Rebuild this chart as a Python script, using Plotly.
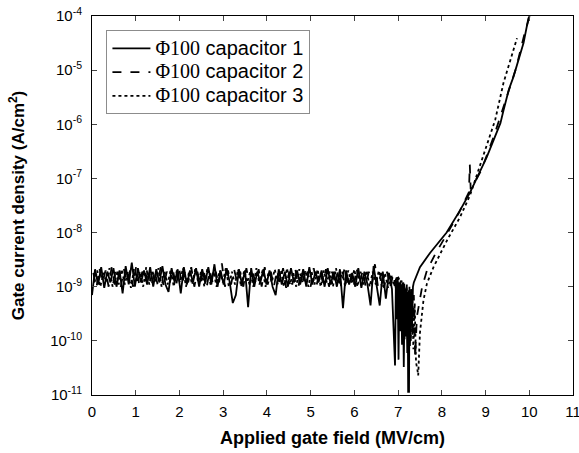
import plotly.graph_objects as go

# applied gate field (MV/cm) in the flat leakage region, one sweep per capacitor
cap1_field_flat = [
    0.00, 0.07, 0.14, 0.21, 0.28, 0.35, 0.42, 0.49, 0.56, 0.63,
    0.70, 0.77, 0.84, 0.91, 0.98, 1.05, 1.12, 1.19, 1.26, 1.33,
    1.40, 1.47, 1.54, 1.61, 1.68, 1.75, 1.82, 1.89, 1.96, 2.03,
    2.10, 2.17, 2.24, 2.31, 2.38, 2.45, 2.52, 2.59, 2.66, 2.73,
    2.80, 2.87, 2.94, 3.01, 3.08, 3.15, 3.22, 3.29, 3.36, 3.43,
    3.50, 3.57, 3.64, 3.71, 3.78, 3.85, 3.92, 3.99, 4.06, 4.13,
    4.20, 4.27, 4.34, 4.41, 4.48, 4.55, 4.62, 4.69, 4.76, 4.83,
    4.90, 4.97, 5.04, 5.11, 5.18, 5.25, 5.32, 5.39, 5.46, 5.53,
    5.60, 5.67, 5.74, 5.81, 5.88, 5.95, 6.02, 6.09, 6.16, 6.23,
    6.30, 6.37, 6.44, 6.51, 6.58, 6.65, 6.72, 6.79, 6.86, 6.93,
]
cap2_field_flat = [
    0.03, 0.10, 0.17, 0.24, 0.31, 0.38, 0.45, 0.52, 0.59, 0.66,
    0.73, 0.80, 0.87, 0.94, 1.01, 1.08, 1.15, 1.22, 1.29, 1.36,
    1.43, 1.50, 1.57, 1.64, 1.71, 1.78, 1.85, 1.92, 1.99, 2.06,
    2.13, 2.20, 2.27, 2.34, 2.41, 2.48, 2.55, 2.62, 2.69, 2.76,
    2.83, 2.90, 2.97, 3.04, 3.11, 3.18, 3.25, 3.32, 3.39, 3.46,
    3.53, 3.60, 3.67, 3.74, 3.81, 3.88, 3.95, 4.02, 4.09, 4.16,
    4.23, 4.30, 4.37, 4.44, 4.51, 4.58, 4.65, 4.72, 4.79, 4.86,
    4.93, 5.00, 5.07, 5.14, 5.21, 5.28, 5.35, 5.42, 5.49, 5.56,
    5.63, 5.70, 5.77, 5.84, 5.91, 5.98, 6.05, 6.12, 6.19, 6.26,
    6.33, 6.40, 6.47, 6.54, 6.61, 6.68, 6.75, 6.82, 6.89, 6.96,
]
cap3_field_flat = [
    0.05, 0.12, 0.19, 0.26, 0.33, 0.40, 0.47, 0.54, 0.61, 0.68,
    0.75, 0.82, 0.89, 0.96, 1.03, 1.10, 1.17, 1.24, 1.31, 1.38,
    1.45, 1.52, 1.59, 1.66, 1.73, 1.80, 1.87, 1.94, 2.01, 2.08,
    2.15, 2.22, 2.29, 2.36, 2.43, 2.50, 2.57, 2.64, 2.71, 2.78,
    2.85, 2.92, 2.99, 3.06, 3.13, 3.20, 3.27, 3.34, 3.41, 3.48,
    3.55, 3.62, 3.69, 3.76, 3.83, 3.90, 3.97, 4.04, 4.11, 4.18,
    4.25, 4.32, 4.39, 4.46, 4.53, 4.60, 4.67, 4.74, 4.81, 4.88,
    4.95, 5.02, 5.09, 5.16, 5.23, 5.30, 5.37, 5.44, 5.51, 5.58,
    5.65, 5.72, 5.79, 5.86, 5.93, 6.00, 6.07, 6.14, 6.21, 6.28,
    6.35, 6.42, 6.49, 6.56, 6.63, 6.70, 6.77, 6.84, 6.91, 6.98,
]

# gate current density (A/cm2) in the flat region
cap1_flat = [
    0.70e-9, 2.1e-9, 1.1e-9, 2.3e-9, 0.95e-9, 1.9e-9, 1.2e-9, 2.2e-9, 1.0e-9, 2.0e-9,
    0.75e-9, 2.4e-9, 1.1e-9, 2.8e-9, 1.0e-9, 2.2e-9, 1.2e-9, 2.0e-9, 1.1e-9, 2.3e-9,
    1.0e-9, 2.1e-9, 1.2e-9, 2.4e-9, 1.1e-9, 0.80e-9, 2.2e-9, 1.2e-9, 2.1e-9, 0.75e-9,
    2.3e-9, 1.1e-9, 2.0e-9, 1.2e-9, 2.2e-9, 1.0e-9, 2.1e-9, 1.2e-9, 2.3e-9, 1.1e-9,
    2.6e-9, 1.0e-9, 2.0e-9, 1.1e-9, 2.2e-9, 1.2e-9, 0.50e-9, 0.70e-9, 2.1e-9, 1.1e-9,
    2.0e-9, 0.42e-9, 2.2e-9, 1.0e-9, 1.9e-9, 1.2e-9, 2.1e-9, 1.1e-9, 2.0e-9, 1.0e-9,
    0.70e-9, 2.1e-9, 1.1e-9, 1.9e-9, 1.0e-9, 2.2e-9, 1.2e-9, 2.0e-9, 1.1e-9, 2.1e-9,
    1.0e-9, 2.3e-9, 1.1e-9, 1.9e-9, 1.2e-9, 2.0e-9, 1.0e-9, 2.2e-9, 1.1e-9, 1.9e-9,
    1.0e-9, 2.1e-9, 0.40e-9, 2.0e-9, 1.1e-9, 1.8e-9, 1.0e-9, 2.2e-9, 0.95e-9, 1.9e-9,
    1.1e-9, 0.45e-9, 2.4e-9, 0.95e-9, 0.45e-9, 1.9e-9, 0.60e-9, 1.8e-9, 0.90e-9, 3.5e-11,
]
cap2_flat = [
    1.8e-9, 0.95e-9, 2.2e-9, 1.2e-9, 2.0e-9, 1.0e-9, 2.3e-9, 1.1e-9, 1.9e-9, 1.0e-9,
    2.1e-9, 1.2e-9, 2.0e-9, 1.0e-9, 2.4e-9, 1.1e-9, 1.9e-9, 1.2e-9, 2.2e-9, 1.0e-9,
    2.0e-9, 1.1e-9, 2.3e-9, 1.0e-9, 1.9e-9, 1.2e-9, 2.1e-9, 1.0e-9, 2.2e-9, 1.1e-9,
    2.0e-9, 1.2e-9, 2.3e-9, 1.0e-9, 1.9e-9, 1.1e-9, 2.2e-9, 0.95e-9, 2.0e-9, 1.2e-9,
    1.9e-9, 1.1e-9, 2.7e-9, 1.0e-9, 2.0e-9, 1.1e-9, 2.1e-9, 1.2e-9, 1.9e-9, 1.0e-9,
    2.2e-9, 1.1e-9, 1.9e-9, 1.2e-9, 2.1e-9, 1.0e-9, 2.3e-9, 1.1e-9, 1.9e-9, 1.0e-9,
    2.0e-9, 1.2e-9, 2.2e-9, 0.95e-9, 1.9e-9, 1.1e-9, 2.1e-9, 1.0e-9, 2.0e-9, 1.2e-9,
    1.9e-9, 1.0e-9, 2.2e-9, 1.1e-9, 2.0e-9, 1.2e-9, 2.1e-9, 1.0e-9, 1.9e-9, 1.1e-9,
    2.0e-9, 1.0e-9, 2.1e-9, 1.2e-9, 1.9e-9, 0.95e-9, 2.2e-9, 1.1e-9, 2.0e-9, 1.0e-9,
    1.9e-9, 1.1e-9, 2.6e-9, 1.0e-9, 1.8e-9, 0.95e-9, 1.9e-9, 1.0e-9, 1.7e-9, 0.85e-9,
]
cap3_flat = [
    1.2e-9, 2.0e-9, 1.0e-9, 1.8e-9, 1.2e-9, 2.2e-9, 1.0e-9, 1.9e-9, 1.1e-9, 2.1e-9,
    1.1e-9, 1.9e-9, 0.95e-9, 2.1e-9, 1.2e-9, 1.9e-9, 1.0e-9, 2.3e-9, 1.1e-9, 2.0e-9,
    1.2e-9, 2.2e-9, 1.0e-9, 1.9e-9, 1.1e-9, 2.1e-9, 1.0e-9, 2.0e-9, 1.2e-9, 2.2e-9,
    1.0e-9, 1.9e-9, 1.1e-9, 2.1e-9, 1.2e-9, 2.0e-9, 1.0e-9, 2.2e-9, 1.1e-9, 1.9e-9,
    1.0e-9, 2.0e-9, 1.2e-9, 2.2e-9, 1.0e-9, 1.9e-9, 1.1e-9, 2.1e-9, 1.0e-9, 2.0e-9,
    1.2e-9, 1.9e-9, 1.0e-9, 2.2e-9, 1.1e-9, 2.0e-9, 1.0e-9, 1.9e-9, 1.2e-9, 2.1e-9,
    1.1e-9, 2.0e-9, 1.0e-9, 2.2e-9, 1.1e-9, 1.9e-9, 1.0e-9, 2.1e-9, 1.2e-9, 2.0e-9,
    1.0e-9, 1.9e-9, 1.1e-9, 2.1e-9, 1.0e-9, 2.0e-9, 1.2e-9, 1.9e-9, 1.0e-9, 2.2e-9,
    1.1e-9, 1.9e-9, 1.0e-9, 2.0e-9, 1.2e-9, 2.1e-9, 1.0e-9, 1.9e-9, 1.1e-9, 2.0e-9,
    1.0e-9, 1.9e-9, 1.1e-9, 2.0e-9, 1.0e-9, 1.8e-9, 0.95e-9, 1.7e-9, 1.0e-9, 1.6e-9,
]

# breakdown dip and tunnelling rise, per capacitor
cap1_field = [6.95, 6.97, 6.99, 7.01, 7.03, 7.05, 7.07, 7.09, 7.11, 7.13, 7.15, 7.17, 7.19, 7.21,
              7.22, 7.23, 7.24, 7.25, 7.26, 7.28, 7.30, 7.32, 7.34, 7.36,
              7.50, 7.73, 7.96, 8.11, 8.42, 8.65, 9.03, 9.34, 9.41, 9.53, 9.64, 9.73, 9.87, 9.98, 10.01]
cap1_tail = [1.4e-9, 2.5e-10, 1.3e-9, 4.5e-11, 1.2e-9, 1.5e-10, 1.1e-9, 8.5e-11, 1.2e-9, 3.3e-11, 1.0e-9, 1.2e-10, 9e-10, 6e-11,
             8e-10, 1.1e-11, 7e-10, 1.1e-11, 8e-10, 1.0e-10, 9e-10, 2e-10, 1.0e-9, 1.2e-9,
             2.3e-9, 4.2e-9, 7.2e-9, 1.0e-8, 2.6e-8, 5.6e-8, 2.5e-7, 1.05e-6, 1.8e-6, 4.3e-6, 7.6e-6, 1.3e-5, 3.2e-5, 9.1e-5, 1.0e-4]

cap2_field = [7.00, 7.03, 7.06, 7.09, 7.12, 7.15, 7.18, 7.21, 7.24, 7.27, 7.30, 7.33, 7.36, 7.39, 7.43,
              7.55, 7.66, 7.85, 8.10, 8.40, 8.62, 8.64, 8.66, 8.90, 9.20, 9.50, 9.70, 9.90, 10.01]
cap2_tail = [1.5e-9, 2e-10, 1.3e-9, 1.3e-10, 1.2e-9, 1.0e-10, 1.1e-9, 1.5e-10, 1.0e-9, 8e-11, 9e-10, 1.2e-10, 7e-10, 5e-11, 2.8e-10,
             1.0e-9, 2.0e-9, 4.0e-9, 8.9e-9, 2.4e-8, 5.6e-8, 1.8e-7, 6.3e-8, 1.4e-7, 6.3e-7, 3.5e-6, 1.1e-5, 5e-5, 1.0e-4]

cap3_field = [7.02, 7.05, 7.08, 7.11, 7.14, 7.17, 7.20, 7.23, 7.26, 7.29, 7.32, 7.35, 7.38, 7.41, 7.44, 7.46,
              7.50, 7.58, 7.66, 7.81, 8.12, 8.42, 8.65, 9.00, 9.22, 9.41, 9.60, 9.72]
cap3_tail = [1.4e-9, 3e-10, 1.3e-9, 1.5e-10, 1.2e-9, 2e-10, 1.1e-9, 1.2e-10, 1.0e-9, 1.0e-10, 8e-10, 7e-11, 5e-10, 4e-11, 3e-11, 2.3e-11,
             1.4e-10, 5.6e-10, 1.15e-9, 2.3e-9, 7.2e-9, 1.95e-8, 5.0e-8, 3.5e-7, 1.2e-6, 5.8e-6, 2.0e-5, 3.9e-5]

names = ["capacitor 1", "capacitor 2", "capacitor 3"]
dashes = ["solid", "dash", "dot"]

y_ticks = [1e-11, 1e-10, 1e-9, 1e-8, 1e-7, 1e-6, 1e-5, 1e-4]
y_labels = ["10<sup>-11</sup>", "10<sup>-10</sup>", "10<sup>-9</sup>", "10<sup>-8</sup>",
            "10<sup>-7</sup>", "10<sup>-6</sup>", "10<sup>-5</sup>", "10<sup>-4</sup>"]

fig = go.Figure()
series = [
    (cap1_field_flat, cap1_flat, cap1_field, cap1_tail),
    (cap2_field_flat, cap2_flat, cap2_field, cap2_tail),
    (cap3_field_flat, cap3_flat, cap3_field, cap3_tail),
]
for (xf, yf, xt, yt), name, dash in zip(series, names, dashes):
    fig.add_trace(go.Scatter(
        x=xf + xt, y=yf + yt, mode="lines",
        name="<span style='font-size:20px'><span style='font-family:Liberation Serif'>Φ100</span> " + name + "</span>",
        line=dict(color="black", width=1.8, dash=dash),
    ))

fig.update_layout(
    width=579, height=453,
    margin=dict(l=92, r=6, t=16, b=58),
    paper_bgcolor="white", plot_bgcolor="white",
    font=dict(family="Liberation Sans, Arial", color="black", size=15),
    showlegend=True,
    legend=dict(x=0.03, y=0.962, xanchor="left", yanchor="top",
                bordercolor="#8c8c8c", borderwidth=1, bgcolor="white",
                font=dict(size=16), tracegroupgap=0, itemwidth=38),
)
fig.update_xaxes(
    range=[0, 11], dtick=1, ticks="inside", ticklen=5, mirror="ticks", automargin=False,
    showline=True, linecolor="black", linewidth=1, showgrid=False, zeroline=False,
    ticklabelstandoff=3, ticklabeloverflow="allow",
    title=dict(text="<b>Applied gate field (MV/cm)</b>", font=dict(size=18), standoff=12),
)
fig.update_yaxes(
    type="log", range=[-11, -4], tickmode="array", tickvals=y_ticks, ticktext=y_labels,
    ticks="inside", ticklen=5, mirror="ticks", automargin=False,
    showline=True, linecolor="black", linewidth=1, showgrid=False, zeroline=False,
    ticklabelstandoff=6, ticklabeloverflow="allow",
    title=dict(text="<b>Gate current density (A/cm<sup>2</sup>)</b>", font=dict(size=17), standoff=21),
)

# drop the page's default body margin so the figure sits at the window's corner
fig.write_html("out.html", config={"displayModeBar": False},
               post_script="document.body.style.margin = '0';")
